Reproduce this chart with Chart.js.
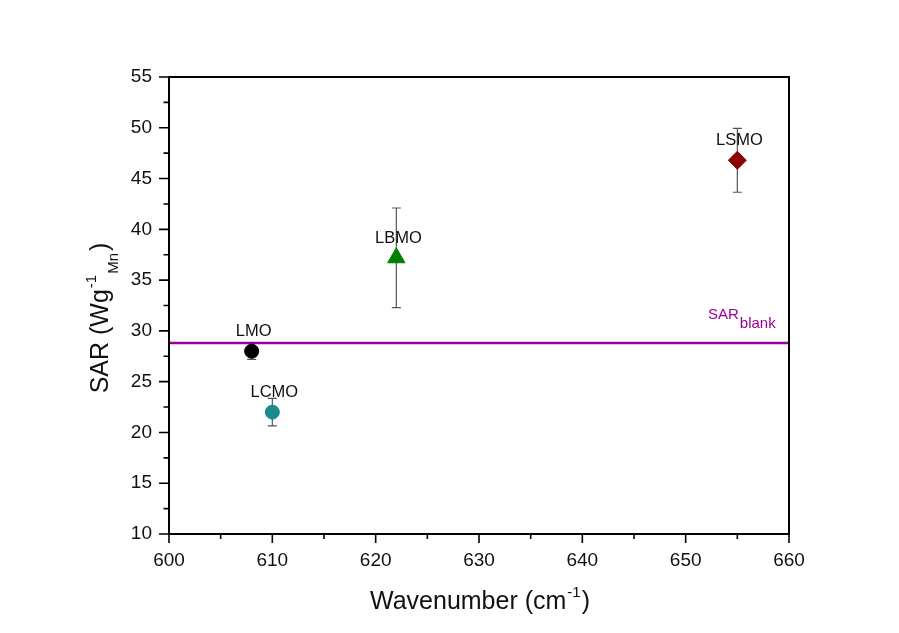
<!DOCTYPE html>
<html>
<head>
<meta charset="utf-8">
<script src="https://cdn.jsdelivr.net/npm/chart.js@4/dist/chart.umd.min.js"></script>
<style>
  html, body { margin: 0; padding: 0; background: #fff; }
  #wrap { width: 899px; height: 633px; }
</style>
</head>
<body>
<div id="wrap"><canvas id="c" width="899" height="633"></canvas></div>
<script>
// Samples, their Raman band position and heating efficiency
const samples    = ['LMO', 'LCMO', 'LBMO', 'LSMO'];
const wavenumber = [608, 610, 622, 655];
const sar        = [28.0, 22.0, 37.2, 46.8];
const sarErr     = [0.8, 1.35, 4.9, 3.15];
const sarBlank   = 28.8;

const markerColors = ['#000000', '#1a8c8c', '#008000', '#8b0000'];
const markerStyles = ['circle', 'circle', 'triangle', 'rectRot'];
const markerSizes  = [7, 7, 10, 9];

const xTicks = [600, 610, 620, 630, 640, 650, 660];
const yTicks = [10, 15, 20, 25, 30, 35, 40, 45, 50, 55];

const FONT = 'Liberation Sans, Arial, sans-serif';

const pointData = samples.map((s, i) => ({ x: wavenumber[i], y: sar[i] }));

// Frame, minor ticks, error bars, labels and axis titles
const decor = {
  id: 'decor',
  beforeDatasetsDraw(chart) {
    const { ctx, scales: { x, y } } = chart;
    ctx.save();
    // error bars
    ctx.strokeStyle = '#555';
    ctx.lineWidth = 1.2;
    samples.forEach((s, i) => {
      const px = x.getPixelForValue(wavenumber[i]);
      const top = y.getPixelForValue(sar[i] + sarErr[i]);
      const bot = y.getPixelForValue(sar[i] - sarErr[i]);
      ctx.beginPath();
      ctx.moveTo(px, top); ctx.lineTo(px, bot);
      ctx.moveTo(px - 4.5, top); ctx.lineTo(px + 4.5, top);
      ctx.moveTo(px - 4.5, bot); ctx.lineTo(px + 4.5, bot);
      ctx.stroke();
    });
    ctx.restore();
  },
  afterDraw(chart) {
    const { ctx, chartArea: a, scales: { x, y } } = chart;
    ctx.save();
    // box frame
    ctx.strokeStyle = '#000';
    ctx.lineWidth = 2;
    ctx.strokeRect(a.left, a.top, a.right - a.left, a.bottom - a.top);

    // major and minor ticks, outward
    ctx.lineWidth = 1.6;
    ctx.beginPath();
    xTicks.forEach(v => {
      const px = x.getPixelForValue(v);
      ctx.moveTo(px, a.bottom); ctx.lineTo(px, a.bottom + 9);
      if (v < 660) {
        const m = x.getPixelForValue(v + 5);
        ctx.moveTo(m, a.bottom); ctx.lineTo(m, a.bottom + 5);
      }
    });
    yTicks.forEach(v => {
      const py = y.getPixelForValue(v);
      ctx.moveTo(a.left, py); ctx.lineTo(a.left - 10, py);
      if (v < 55) {
        const m = y.getPixelForValue(v + 2.5);
        ctx.moveTo(a.left, m); ctx.lineTo(a.left - 5.5, m);
      }
    });
    ctx.stroke();

    // sample labels
    ctx.fillStyle = '#111';
    ctx.font = '16.5px ' + FONT;
    ctx.textAlign = 'center';
    ctx.textBaseline = 'alphabetic';
    samples.forEach((s, i) => {
      const px = x.getPixelForValue(wavenumber[i]);
      const py = y.getPixelForValue(sar[i]);
      ctx.fillText(s, px + 2, py - 15);
    });

    // SAR_blank label
    ctx.fillStyle = '#990099';
    ctx.textAlign = 'left';
    const by = y.getPixelForValue(sarBlank);
    ctx.font = '15px ' + FONT;
    ctx.fillText('SAR', 708, by - 24);
    const w1 = ctx.measureText('SAR').width;
    ctx.fillText('blank', 709 + w1, by - 15);

    // x axis title
    ctx.fillStyle = '#111';
    const big = '25px ' + FONT, small = '15px ' + FONT;
    const t1 = 'Wavenumber (cm', t2 = '-1', t3 = ')';
    ctx.font = big;
    const wA = ctx.measureText(t1).width;
    ctx.font = small;
    const wB = ctx.measureText(t2).width;
    let sx = 370;
    const base = 609;
    ctx.font = big;
    ctx.fillText(t1, sx, base);
    ctx.font = small;
    ctx.fillText(t2, sx + wA + 1, base - 12);
    ctx.font = big;
    ctx.fillText(t3, sx + wA + wB + 2, base);

    // y axis title (rotated)
    ctx.translate(108, 318);
    ctx.rotate(-Math.PI / 2);
    const y1 = 'SAR (Wg', ysup = '-1', ysub = 'Mn', y3 = ')';
    ctx.font = big;
    const wy1 = ctx.measureText(y1).width;
    const wy3 = ctx.measureText(y3).width;
    ctx.font = small;
    const wsup = ctx.measureText(ysup).width;
    const wsub = ctx.measureText(ysub).width;
    const total = wy1 + wsup + wsub + wy3 + 4;
    let ox = -total / 2;
    ctx.font = big;
    ctx.fillText(y1, ox, 0);
    ctx.font = small;
    ctx.fillText(ysup, ox + wy1 + 1, -12);
    ctx.fillText(ysub, ox + wy1 + wsup + 2, 10);
    ctx.font = big;
    ctx.fillText(y3, ox + wy1 + wsup + wsub + 4, 0);
    ctx.restore();
  }
};

new Chart(document.getElementById('c'), {
  type: 'scatter',
  data: {
    datasets: [
      {
        label: 'SAR blank',
        data: [{ x: 600, y: sarBlank }, { x: 660, y: sarBlank }],
        showLine: true,
        borderColor: '#990099',
        borderWidth: 2.5,
        pointRadius: 0,
        order: 2
      },
      {
        label: 'SAR',
        data: pointData,
        pointStyle: markerStyles,
        pointRadius: markerSizes,
        backgroundColor: markerColors,
        borderColor: markerColors,
        borderWidth: 1,
        order: 1
      }
    ]
  },
  options: {
    responsive: false,
    animation: false,
    events: [],
    layout: { padding: { top: 77, right: 110, left: 0, bottom: 0 } },
    plugins: { legend: { display: false }, tooltip: { enabled: false } },
    scales: {
      x: {
        type: 'linear', min: 600, max: 660,
        afterFit(s) { s.height = 99; },
        afterBuildTicks(s) { s.ticks = xTicks.map(v => ({ value: v })); },
        grid: { display: false },
        border: { display: false },
        ticks: { color: '#111', font: { family: FONT, size: 19 }, padding: 7 }
      },
      y: {
        type: 'linear', min: 10, max: 55,
        afterFit(s) { s.width = 169; },
        afterBuildTicks(s) { s.ticks = yTicks.map(v => ({ value: v })); },
        grid: { display: false },
        border: { display: false },
        ticks: { color: '#111', font: { family: FONT, size: 19 }, padding: 9 }
      }
    }
  },
  plugins: [decor]
});
</script>
</body>
</html>
